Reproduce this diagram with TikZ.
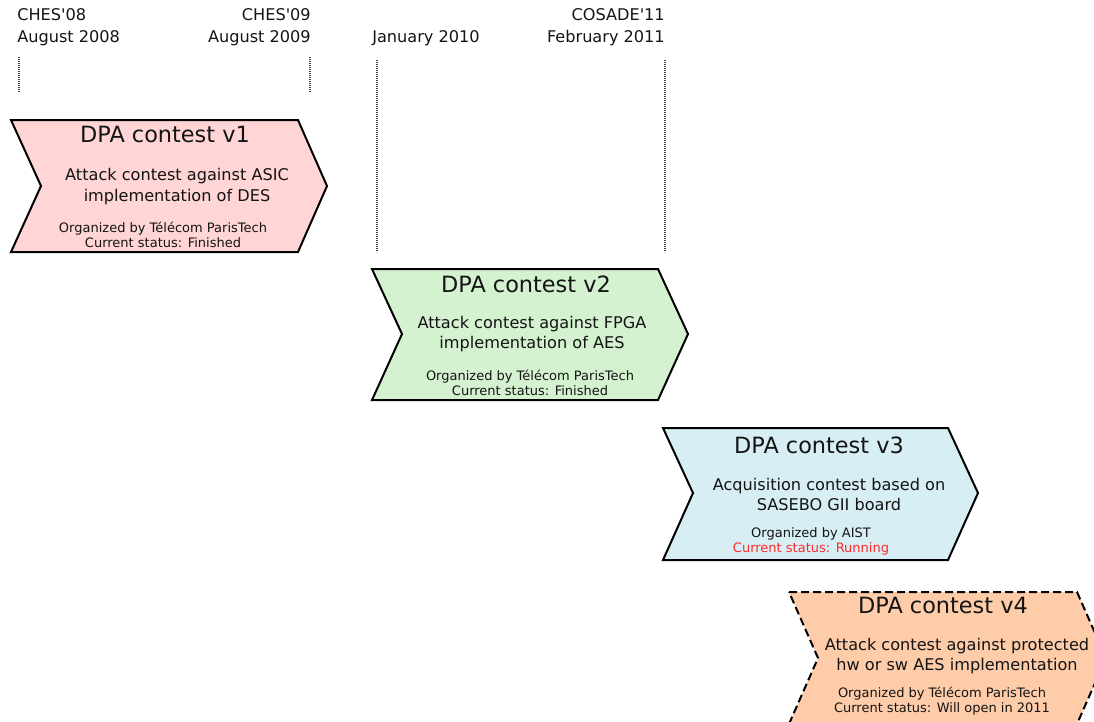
\documentclass[tikz,border=0pt]{standalone}
\usepackage{fontspec}
\setmainfont{DejaVu Sans}
\definecolor{pinkfill}{RGB}{255,213,213}
\definecolor{greenfill}{RGB}{213,242,208}
\definecolor{bluefill}{RGB}{215,238,244}
\definecolor{orangefill}{RGB}{255,204,170}
\definecolor{runred}{RGB}{255,42,42}
\definecolor{textdark}{RGB}{20,20,20}
\begin{document}
\begin{tikzpicture}[x=0.75pt,y=-0.75pt,
  chevron/.style={draw=black,line width=1.5pt,line join=miter},
  guide/.style={draw=black!75,line width=0.8pt,dash pattern=on 0.6pt off 0.9pt},
  datetxt/.style={font=\fontsize{12.1pt}{14pt}\selectfont,text=textdark,inner sep=0pt},
  titletxt/.style={font=\fontsize{16.8pt}{20pt}\selectfont,text=textdark,inner sep=0pt,anchor=base},
  desctxt/.style={font=\fontsize{12.1pt}{14pt}\selectfont,text=textdark,inner sep=0pt,anchor=base},
  smalltxt/.style={font=\fontsize{9.75pt}{11pt}\selectfont,text=textdark,inner sep=0pt,anchor=base}]
\useasboundingbox (0,0) rectangle (1094,721);

% dates
\node[datetxt,anchor=base west] (d1a) at (17,21) {CHES\textquotesingle 08};
\node[datetxt,anchor=base west] (d1b) at (17,42) {August 2008};
\node[datetxt,anchor=base east] (d2a) at (311,21) {CHES\textquotesingle 09};
\node[datetxt,anchor=base east] (d2b) at (311,42) {August 2009};
\node[datetxt,anchor=base west] (d3b) at (372,42) {January 2010};
\node[datetxt,anchor=base east] (d4a) at (665,21) {COSADE\textquotesingle 11};
\node[datetxt,anchor=base east] (d4b) at (665,42) {February 2011};

% dotted guides
\coordinate (g1t) at (19,57);  \coordinate (g1b) at (19,92);
\coordinate (g2t) at (310,57); \coordinate (g2b) at (310,92);
\coordinate (g3t) at (377,60); \coordinate (g3b) at (377,252);
\coordinate (g4t) at (665,60); \coordinate (g4b) at (665,252);
\draw[guide] (g1t) -- (g1b);
\draw[guide] (g2t) -- (g2b);
\draw[guide] (g3t) -- (g3b);
\draw[guide] (g4t) -- (g4b);

% box 1
\draw[chevron,fill=pinkfill] (11,120) -- (298,120) -- (327,186) -- (298,252) -- (11,252) -- (41,186) -- cycle;
\node[titletxt] (t1) at (165,142) {DPA contest v1};
\node[desctxt] (a1) at (177,180) {Attack contest against ASIC};
\node[desctxt] (b1) at (177,201) {implementation of DES};
\node[smalltxt] (o1) at (163,232) {Organized by Télécom ParisTech};
\node[smalltxt] (s1) at (163,247) {Current status: Finished};

% box 2
\draw[chevron,fill=greenfill] (372,269) -- (658,269) -- (688,334) -- (658,400) -- (372,400) -- (402,334) -- cycle;
\node[titletxt] (t2) at (526,292) {DPA contest v2};
\node[desctxt] (a2) at (532,328) {Attack contest against FPGA};
\node[desctxt] (b2) at (532,348) {implementation of AES};
\node[smalltxt] (o2) at (530,380) {Organized by Télécom ParisTech};
\node[smalltxt] (s2) at (530,395) {Current status: Finished};

% box 3
\draw[chevron,fill=bluefill] (663,428) -- (948,428) -- (978,493) -- (948,560) -- (663,560) -- (693,493) -- cycle;
\node[titletxt] (t3) at (819,453) {DPA contest v3};
\node[desctxt] (a3) at (829,490) {Acquisition contest based on};
\node[desctxt] (b3) at (829,510) {SASEBO GII board};
\node[smalltxt] (o3) at (811,537) {Organized by AIST};
\node[smalltxt,text=runred] (s3) at (811,552) {Current status: Running};

% box 4
\draw[chevron,fill=orangefill,dash pattern=on 6pt off 3pt] (789,592) -- (1077,592) -- (1106,658) -- (1077,724) -- (789,724) -- (818,658) -- cycle;
\node[titletxt] (t4) at (943,613) {DPA contest v4};
\node[desctxt] (a4) at (957,650) {Attack contest against protected};
\node[desctxt] (b4) at (957,670) {hw or sw AES implementation};
\node[smalltxt] (o4) at (942,697) {Organized by Télécom ParisTech};
\node[smalltxt] (s4) at (942,712) {Current status: Will open in 2011};
\end{tikzpicture}
\end{document}
